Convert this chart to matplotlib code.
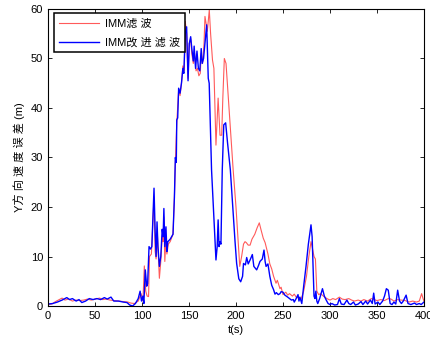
import numpy as np
import matplotlib
matplotlib.use('Agg')
import matplotlib.pyplot as plt

# --- data
blue_t = [0, 5, 10, 15, 20, 23, 26, 30, 33, 36, 40, 44, 48, 52, 56, 60, 63, 67, 70, 75, 80, 84, 87, 90, 93, 96, 98,
          99.5, 101, 102, 103.5, 105, 106, 107.5, 109, 110.5, 112.8, 114, 115, 116, 117, 118.5, 120, 121.5, 122.5,
          123.3, 124.3, 125.5, 126.5, 127.5, 130, 133, 134.5, 135.5, 136.5, 137, 138, 139, 140.5, 142, 143.5, 144.5,
          146, 147.5, 149, 150.3, 151.8, 153, 154.6, 155.5, 157, 158.5, 160, 161.5, 163, 164, 165.5, 167, 168.8,
          170.5, 171.5, 174, 177, 178.7, 180, 181, 182, 183, 184, 185.4, 187, 189, 191, 194, 197, 199, 200.7, 203,
          205, 207, 208, 210, 211.4, 213, 215, 217.4, 219, 222, 224, 225.5, 228, 229.8, 231, 232, 234, 236, 238, 240,
          241.5, 243, 245, 246.8, 248, 250, 252, 253.5, 255, 257, 259, 261, 262, 264, 266, 267, 268, 270, 272, 274.5,
          277, 279.8, 281, 282, 283, 284, 285, 286, 287, 289, 292, 294, 296, 298, 300, 302, 305, 308, 310, 312, 315,
          318, 320, 322, 325, 327, 330, 333, 335, 338, 340, 343, 345, 346.5, 348, 351, 353, 356, 358, 360, 362, 364,
          366, 368, 370, 372, 374, 376, 378, 381, 383, 386, 390, 392, 395, 397, 400]
blue_v = [0.4, 0.5, 0.8, 1.2, 1.7, 1.3, 1.5, 1.0, 1.3, 0.7, 1.0, 1.5, 1.3, 1.5, 1.3, 1.7, 1.4, 1.8, 1.0, 1.0, 0.8, 0.7,
          0.2, 0.0, 0.5, 1.5, 3.0, 1.0, 2.0, 0.5, 7.3, 4.0, 4.5, 12, 11.5, 12, 23.8, 15, 10, 17, 12, 8, 10, 15.5, 14,
          19.7, 12, 16, 11, 13, 13.5, 14.5, 22, 30, 29, 37.6, 38, 44, 43, 45, 48, 47, 55, 56.4, 45.5, 53, 54.4, 52,
          49.5, 52.5, 48, 51.5, 48, 47.5, 52, 49, 50, 53, 56.8, 46, 45, 27.5, 16, 9.3, 12, 17.4, 12, 13, 12.5, 27.5,
          36.6, 37, 33, 27.5, 18.7, 13, 8.6, 5.5, 4.9, 6, 8.6, 8.3, 9.8, 8.5, 9.3, 10.4, 8, 7.3, 8.2, 9, 9.5, 11.3,
          9, 8, 8.5, 6, 4.2, 3.3, 2.4, 2.7, 2.3, 2.5, 2.9, 2.8, 2.2, 2.0, 1.8, 1.5, 1.2, 1.3, 0.8, 1.5, 2.3, 1.0, 1.8,
          0.5, 4, 8, 12.5, 16.4, 14, 8, 2, 1.5, 3, 1.0, 0.5, 1.5, 3.5, 2, 1.2, 0.5, 0.3, 0.5, 0.2, 0.3, 1.5, 0.4, 0.3,
          1.2, 0.5, 0.3, 0.8, 0.2, 0.4, 0.9, 0.3, 1.0, 0.4, 1.2, 0.5, 2.6, 0.4, 0.8, 0.3, 1.0, 2.0, 3.5, 3.2, 0.5,
          0.3, 0.8, 0.4, 3.2, 1.0, 0.5, 1.0, 2.2, 0.5, 0.3, 0.6, 0.3, 0.5, 0.3, 0.8]

red_t = [0, 4, 8, 12, 15, 18, 22, 26, 30, 34, 38, 42, 46, 50, 55, 58, 62, 66, 70, 75, 80, 85, 88, 92, 96, 99, 101,
         102.5, 104, 105.5, 107, 108, 110, 112.8, 114, 115, 116.5, 118.5, 120, 121.5, 122.5, 123.3, 124.3, 125.5,
         126.5, 128, 130, 133, 134.5, 135.5, 137, 139, 140.5, 142, 143.5, 145, 146, 147.5, 149, 150.3, 151.8, 153,
         154.6, 156, 157.5, 159, 160.5, 162, 163, 164.5, 166, 167, 169.5, 171.6, 173, 175, 176.5, 178.7, 181, 183,
         184.8, 186, 187.6, 189.4, 191.5, 193.6, 197, 200, 202, 204, 206, 208, 209.6, 211, 213, 215, 217, 220,
         222.5, 224.8, 226.5, 229, 231, 234, 236, 238, 240, 242.6, 244, 246.8, 248, 250, 253, 255, 257, 260, 262,
         264, 267, 269.5, 272, 275, 277.5, 279.8, 281, 283, 284.5, 286, 288, 290, 293, 296.7, 300, 303, 306, 310,
         313, 316, 320, 323, 326, 330, 333, 336, 340, 344, 347, 350, 354, 358, 362, 365, 368, 372, 376, 380, 384,
         388, 392, 395, 397.5, 399, 400]
red_v = [0.3, 0.4, 0.9, 1.3, 1.6, 1.2, 1.4, 1.0, 1.2, 1.1, 1.2, 1.4, 1.2, 1.4, 1.6, 1.3, 1.4, 1.2, 1.1, 1.0, 0.9, 0.8,
         0.6, 0.5, 1.0, 2.5, 1.0, 8.1, 3.0, 2.0, 1.9, 10, 10.5, 22, 11, 9.5, 14, 5.6, 9, 14, 13, 18, 9, 14, 10.5,
         12.5, 13, 14.5, 22, 29, 37, 43.5, 42.5, 45, 48.5, 47.5, 57.5, 55, 46, 53, 54, 51, 49, 51, 47.5, 48, 46.5,
         47, 51, 49, 53, 58.5, 55.5, 59.8, 55, 49.7, 48, 32.5, 42, 34.5, 34.5, 42, 50, 49, 43, 37, 27.5, 20, 14, 8,
         10, 12.5, 13, 12.8, 12.3, 12.3, 13.5, 14.5, 15.8, 16.8, 15.5, 13.7, 12.8, 10.5, 8.5, 7.5, 6, 4.6, 5.2, 3.5,
         3.8, 2.3, 2.8, 2.2, 2.5, 2.0, 2.4, 1.8, 1.6, 1.5, 3, 6, 10, 13, 12, 10, 9.5, 3, 2.3, 2.5, 2.0, 1.5, 1.2, 1.5,
         1.3, 1.8, 1.4, 1.3, 1.5, 1.2, 1.0, 1.2, 1.0, 1.3, 1.0, 1.5, 1.3, 1.1, 1.3, 1.1, 1.5, 1.4, 1.0, 1.3, 1.2,
         1.1, 0.8, 1.0, 0.8, 1.0, 2.5, 1.5, 1.0]

x_ticks = [0, 50, 100, 150, 200, 250, 300, 350, 400]
y_ticks = [0, 10, 20, 30, 40, 50, 60]

cjk = ['Liberation Sans', 'Noto Sans CJK SC']
plt.rcParams['font.family'] = cjk

# --- plot
fig = plt.figure(figsize=(4.3, 3.39), dpi=100)
ax = fig.add_axes([0.1116, 0.0973, 0.8744, 0.8762])

ax.plot(red_t, red_v, '-', color='#ff5a5a', lw=0.8, label='IMM滤 波')
ax.plot(blue_t, blue_v, '-', color='#0000ff', lw=1.0, label='IMM改 进 滤 波')

ax.set_xlim(0, 400)
ax.set_ylim(0, 60)
ax.set_xticks(x_ticks)
ax.set_yticks(y_ticks)
ax.tick_params(direction='in', top=True, right=True, labelsize=8, length=3, width=0.6)
ax.set_xlabel('t(s)', fontsize=8, labelpad=3)
ax.set_ylabel('Y方 向 速 度 误 差 (m)', fontsize=8, labelpad=4)
for s in ax.spines.values():
	s.set_linewidth(0.8)

leg = ax.legend(loc='upper left', fontsize=8, fancybox=False, framealpha=1,
				bbox_to_anchor=(0.017, 0.985), borderaxespad=0.0, handlelength=3.6,
				borderpad=0.45, labelspacing=0.75, handletextpad=0.5)
leg.get_frame().set_edgecolor('black')
leg.get_frame().set_linewidth(1.1)

fig.savefig('out.png', dpi=100)
